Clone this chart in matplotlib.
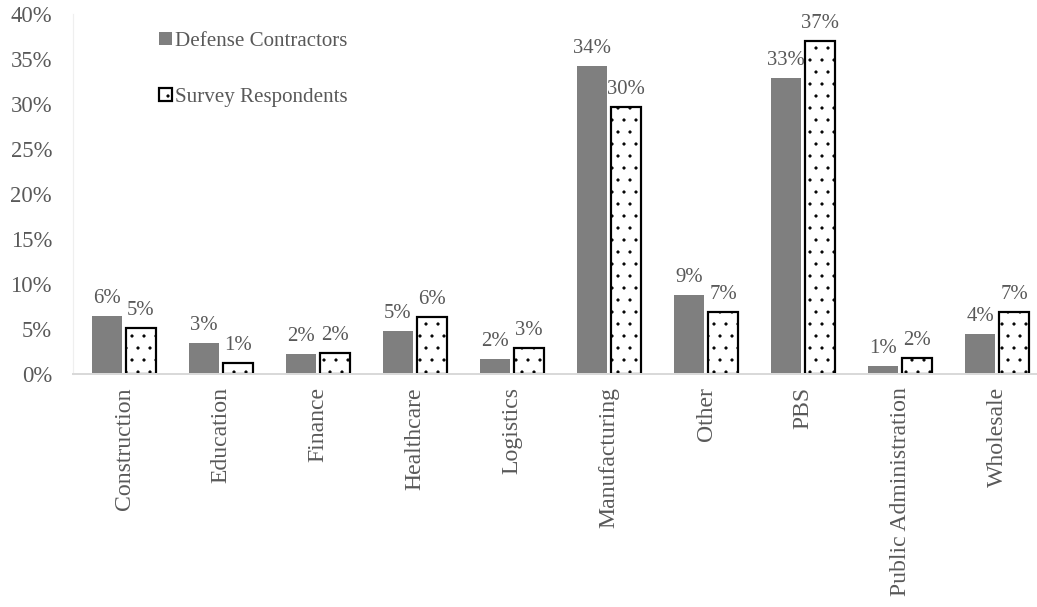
import numpy as np
import matplotlib.pyplot as plt
from matplotlib.patches import Patch
from matplotlib.ticker import FuncFormatter

# industries and share of firms (%) per group
categories = ["Construction", "Education", "Finance", "Healthcare", "Logistics",
              "Manufacturing", "Other", "PBS", "Public Administration", "Wholesale"]
defense = [6.4, 3.4, 2.2, 4.8, 1.7, 34.2, 8.8, 32.9, 0.9, 4.4]
survey = [5.1, 1.2, 2.3, 6.3, 2.9, 29.7, 6.9, 37.0, 1.8, 6.9]
series_names = ["Defense Contractors", "Survey Respondents"]

DPI = 144  # hatch grid scales with dpi, 144 gives the dot spacing of the original
W, H = 1037, 607
TXT = "#595959"

plt.rcParams["font.family"] = ["Liberation Serif", "DejaVu Serif"]
plt.rcParams["hatch.color"] = "black"
plt.rcParams["hatch.linewidth"] = 0.35

fig = plt.figure(figsize=(W / DPI, H / DPI), dpi=DPI)
ax = fig.add_axes([73 / W, 233 / H, (W - 73) / W, 360 / H])

x = np.arange(len(categories))
width = 0.31
b1 = ax.bar(x - 0.175, defense, width, color="#7f7f7f", label=series_names[0])
b2 = ax.bar(x + 0.175, survey, width, color="white", edgecolor="black",
            linewidth=1.1, hatch="..", label=series_names[1])

for bars in (b1, b2):
    ax.bar_label(bars, fmt="{:.0f}%", padding=4, fontsize=10.4, color=TXT)

ax.set_xlim(-0.526, 9.412)
ax.set_ylim(0, 40)
ax.set_yticks(np.arange(0, 41, 5))
ax.yaxis.set_major_formatter(FuncFormatter(lambda v, p: "{:.0f}%".format(v)))
ax.set_xticks(x)
ax.set_xticklabels(categories, rotation=90)
ax.tick_params(axis="y", length=0, pad=10.5, labelsize=11.3, labelcolor=TXT)
ax.tick_params(axis="x", length=0, pad=6.5, labelsize=11.9, labelcolor=TXT)

for s in ("top", "right"):
    ax.spines[s].set_visible(False)
ax.spines["left"].set_color("#efefef")
ax.spines["left"].set_linewidth(0.6)
ax.spines["bottom"].set_color("#d9d9d9")
ax.spines["bottom"].set_linewidth(1.0)

handles = [Patch(facecolor="#7f7f7f", edgecolor="none"),
           Patch(facecolor="white", edgecolor="black", linewidth=1.1, hatch="..")]
fig.legend(handles, series_names, loc="upper left",
           bbox_to_anchor=(159 / W, 1 - 32 / H), bbox_transform=fig.transFigure,
           frameon=False, fontsize=10.5, labelcolor=TXT,
           handlelength=0.6, handleheight=0.6, handletextpad=0.15,
           labelspacing=1.75, borderpad=0, borderaxespad=0)

fig.savefig("out.png", dpi=DPI)
